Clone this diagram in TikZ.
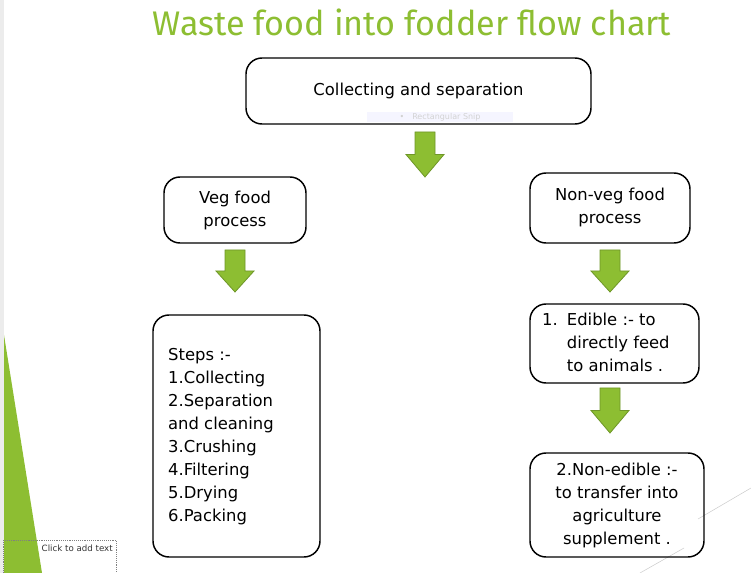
\documentclass[tikz,border=0pt]{standalone}
\usepackage{fontspec}
\setmainfont{DejaVu Sans}
\newfontfamily\titlefont{Fira Sans}
\definecolor{lgreen}{RGB}{141,190,50}
\definecolor{dgreen}{RGB}{110,150,40}
\begin{document}
\begin{tikzpicture}[x=0.75pt,y=-0.75pt,
  box/.style={draw=black,line width=1.1pt,rounded corners=12pt,align=center,font=\fontsize{12.3}{17.25}\selectfont},
  garrow/.style={fill=lgreen,draw=dgreen,line width=0.6pt}]
\useasboundingbox (0,0) rectangle (751,573);
\fill[gray!15] (0,0) rectangle (4,573);
\fill[lgreen] (4,335) -- (42,573) -- (4,573) -- cycle;
\draw[gray!40] (751,488) -- (698,519);
\draw[gray!40] (640,573) -- (684,548);
\node (title) [text=lgreen,font=\titlefont\fontsize{25.6}{28}\selectfont] at (412,22) {Waste food into fodder flow chart};
% boxes
\draw[box] (246,58) rectangle (591,124);
\node (top) [font=\fontsize{12.3}{14}\selectfont] at (418.5,91) {Collecting and separation};
\node (snip) [fill=blue!4,text=gray!35,font=\fontsize{6}{7}\selectfont,minimum width=110pt,inner sep=1pt] at (440,117) {\textbullet\quad Rectangular Snip};
\draw[box] (164,177) rectangle (306,243);
\node (veg) [box,draw=none] at (235,210) {Veg food\\process};
\draw[box] (530,173) rectangle (690,243);
\node (nonveg) [box,draw=none] at (610,207) {Non-veg food\\process};
\draw[box] (153,315) rectangle (320,557);
\node (steps) [box,draw=none,align=left,anchor=north west] at (163,343) {Steps :-\\1.Collecting\\2.Separation\\and cleaning\\3.Crushing\\4.Filtering\\5.Drying\\6.Packing};
\draw[box] (530,304) rectangle (699,383);
\node (edible) [box,draw=none,align=left,anchor=north west] at (537,308) {1.\;\;Edible :- to\\\phantom{1.\;\;}directly feed\\\phantom{1.\;\;}to animals .};
\draw[box] (530,453) rectangle (704,557);
\node (nonedible) [box,draw=none] at (617,505) {2.Non-edible :-\\to transfer into\\agriculture\\supplement .};
% arrows
\foreach \cx/\ty/\by in {425/132/177, 235/250/292, 610/250/292, 610/388/433}{
  \draw[garrow] (\cx-10,\ty) -- (\cx+10,\ty) -- (\cx+10,{(\ty+\by)/2}) -- (\cx+19,{(\ty+\by)/2}) -- (\cx,\by) -- (\cx-19,{(\ty+\by)/2}) -- (\cx-10,{(\ty+\by)/2}) -- cycle;
}
\draw[gray,densely dotted] (3,540) rectangle (116,573);
\node (click) [anchor=west,font=\fontsize{6.5}{8}\selectfont,text=black!80] at (37,548) {Click to add text};
\node[text=lgreen,font=\fontsize{4}{4}\selectfont] at (15,548) {\textbullet};
\end{tikzpicture}
\end{document}
